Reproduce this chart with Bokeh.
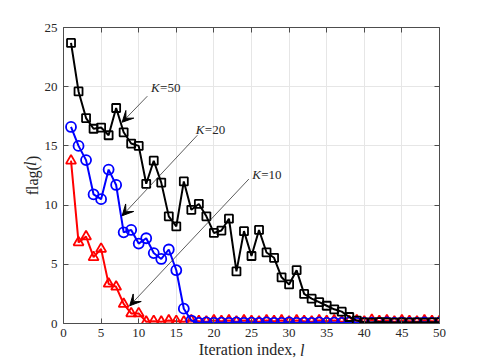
import math
from bokeh.plotting import figure
from bokeh.models import Range1d, LinearAxis, Label, Arrow, VeeHead, FixedTicker
from bokeh.embed import file_html
from bokeh.resources import INLINE

iters = list(range(1, 51))
flag_k50 = [23.7, 19.6, 17.35, 16.45, 16.55, 15.9, 18.2, 16.15, 15.2, 15.0,
            11.8, 13.75, 11.9, 9.05, 8.2, 12.0, 9.6, 10.1, 9.05, 7.65,
            7.85, 8.85, 4.4, 7.8, 5.7, 7.9, 6.0, 5.55, 3.9, 3.3,
            4.5, 2.5, 2.1, 1.8, 1.5, 1.2, 1.0, 0.55, 0.25, 0.1,
            0.08, 0.12, 0.1, 0.08, 0.1, 0.08, 0.1, 0.08, 0.1, 0.1]
flag_k20 = [16.6, 15.0, 13.8, 10.9, 10.5, 13.0, 11.7, 7.7, 7.9, 6.75,
            7.2, 5.95, 5.45, 6.25, 4.5, 1.25, 0.25, 0.05, 0.1, 0.05,
            0.08, 0.05, 0.1, 0.06, 0.08, 0.05, 0.1, 0.06, 0.05, 0.1,
            0.05, 0.08, 0.06, 0.1, 0.05, 0.08, 0.05, 0.1, 0.06, 0.05,
            0.08, 0.06, 0.1, 0.05, 0.08, 0.05, 0.06, 0.1, 0.05, 0.08]
flag_k10 = [13.75, 6.85, 7.35, 5.6, 6.3, 3.35, 3.1, 1.65, 0.85, 0.85,
            0.15, 0.2, 0.15, 0.25, 0.2, 0.15, 0.25, 0.2, 0.15, 0.25,
            0.2, 0.25, 0.15, 0.25, 0.2, 0.15, 0.25, 0.2, 0.25, 0.15,
            0.25, 0.2, 0.15, 0.25, 0.2, 0.25, 0.15, 0.2, 0.25, 0.15,
            0.3, 0.2, 0.25, 0.15, 0.25, 0.2, 0.15, 0.25, 0.2, 0.2]
x_ticks = [0, 5, 10, 15, 20, 25, 30, 35, 40, 45, 50]
y_ticks = [0, 5, 10, 15, 20, 25]

SERIF = "Liberation Serif"
AX = "#4d4d4d"
TXT = "#262626"

p = figure(width=485, height=363, output_backend="svg", toolbar_location=None,
           x_range=Range1d(0, 50), y_range=Range1d(0, 25),
           min_border_left=63, min_border_right=46, min_border_top=27, min_border_bottom=40,
           background_fill_color="white", border_fill_color="white")
p.outline_line_color = None

def style_axis(ax, labels=True):
    ax.axis_line_color = AX
    ax.axis_line_width = 1
    ax.major_tick_in = 5
    ax.major_tick_out = 0
    ax.minor_tick_line_color = None
    ax.major_tick_line_color = AX
    if labels:
        ax.major_label_text_font = SERIF
        ax.major_label_text_font_size = "13px"
        ax.major_label_text_color = TXT
    else:
        ax.major_label_text_font_size = "0px"
        ax.major_label_text_color = None

p.xaxis.ticker = FixedTicker(ticks=x_ticks)
p.yaxis.ticker = FixedTicker(ticks=y_ticks)
style_axis(p.xaxis[0])
style_axis(p.yaxis[0])
p.xaxis.major_label_standoff = 5
p.yaxis.major_label_standoff = 6

for ax in (p.xaxis[0], p.yaxis[0]):
    ax.axis_label_text_font = SERIF
    ax.axis_label_text_font_size = "16px"
    ax.axis_label_text_font_style = "normal"
    ax.axis_label_text_color = TXT
    ax.axis_label_standoff = 1
p.xaxis.axis_label = "Iteration index, \u2005"
p.yaxis.axis_label = "flag(\u2005)"

top = LinearAxis(ticker=FixedTicker(ticks=x_ticks))
right = LinearAxis(ticker=FixedTicker(ticks=y_ticks))
style_axis(top, labels=False)
style_axis(right, labels=False)
p.add_layout(top, "above")
p.add_layout(right, "right")

# italic "l" pieces of the axis titles, as hidden-axis tick labels
def italic_axis(tick):
    ax = LinearAxis(ticker=FixedTicker(ticks=[tick]), major_label_overrides={tick: "l"})
    ax.axis_line_color = None
    ax.major_tick_line_color = None
    ax.minor_tick_line_color = None
    ax.major_tick_in = 0
    ax.major_tick_out = 0
    ax.major_label_text_font = SERIF
    ax.major_label_text_font_size = "16px"
    ax.major_label_text_font_style = "italic"
    ax.major_label_text_color = TXT
    ax.major_label_standoff = -19
    return ax

xl = italic_axis(31.75)
p.add_layout(xl, "below")
yl = italic_axis(13.5)
yl.major_label_orientation = "parallel"
p.add_layout(yl, "left")

p.xgrid.ticker = FixedTicker(ticks=x_ticks)
p.ygrid.ticker = FixedTicker(ticks=y_ticks)
p.grid.grid_line_color = "#e6e6e6"
p.grid.grid_line_width = 1

# K=10 (red)
p.line(iters, flag_k10, line_color="#ff0000", line_width=2)
p.scatter(iters, flag_k10, marker="triangle", size=10, line_color="#ff0000",
          line_width=1.8, fill_color=None)
# K=20 (blue)
p.line(iters, flag_k20, line_color="#0000ff", line_width=2)
p.scatter(iters, flag_k20, marker="circle", size=10, line_color="#0000ff",
          line_width=1.8, fill_color=None)
# K=50 (black)
p.line(iters, flag_k50, line_color="black", line_width=2)
p.scatter(iters, flag_k50, marker="square", size=8, line_color="black",
          line_width=1.8, fill_color=None)

# annotations
ann = [("50", 11.15, 19.2, 7.8, 17.0, 11.65, 19.9),
       ("20", 17.8, 15.9, 7.8, 9.1, 17.6, 16.35),
       ("10", 24.65, 12.2, 8.8, 1.5, 25.1, 12.55)]
for k, xs, ys, xe, ye, tx, ty in ann:
    p.add_layout(Arrow(end=VeeHead(size=11, fill_color="black", line_color="black", line_width=1),
                       x_start=xs, y_start=ys, x_end=xe, y_end=ye,
                       line_color="#333333", line_width=0.8))
    p.add_layout(Label(x=tx, y=ty, text="K", text_font=SERIF, text_font_style="italic",
                       text_font_size="13px", text_color=TXT, text_baseline="middle",
                       text_align="left"))
    p.add_layout(Label(x=tx, y=ty, x_offset=9, text="=" + k, text_font=SERIF,
                       text_font_size="13px", text_color=TXT, text_baseline="middle",
                       text_align="left"))

open("out.html", "w").write(file_html(p, INLINE))
